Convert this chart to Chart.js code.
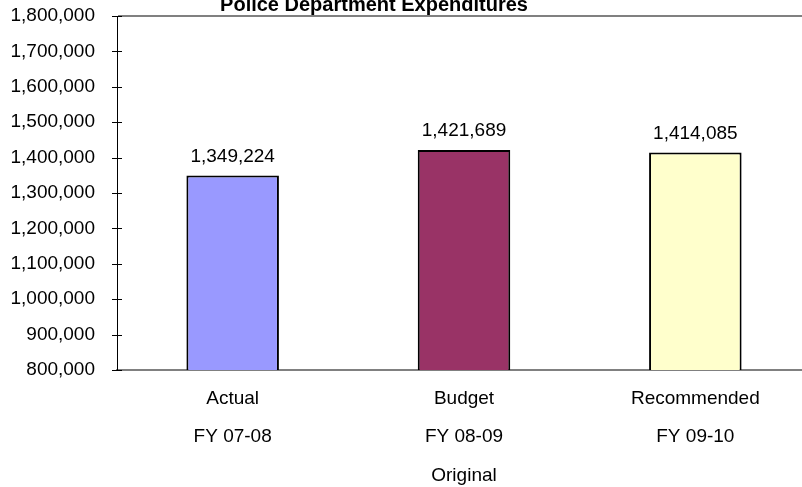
<!DOCTYPE html>
<html>
<head>
<meta charset="utf-8">
<script src="https://cdn.jsdelivr.net/npm/chart.js@4"></script>
<style>
  html, body { margin: 0; padding: 0; background: #fff; overflow: hidden; }
  #wrap { position: relative; width: 812px; height: 487px; }
</style>
</head>
<body>
<div id="wrap"><canvas id="myChart"></canvas></div>
<script>
const chartTitle = 'Police Department Expenditures';
const categories = [
  ['Actual', 'FY 07-08'],
  ['Budget', 'FY 08-09', 'Original'],
  ['Recommended', 'FY 09-10']
];
const expenditures = [1349224, 1421689, 1414085];
const barColors = ['#9999FF', '#993366', '#FFFFCC'];
const yMin = 800000;
const yMax = 1800000;
const yStep = 100000;

const FONT = "'Liberation Sans', Arial, sans-serif";
const fmt = (v) => v.toLocaleString('en-US');

// title, value labels and the tick marks crossing the y axis
const extras = {
  id: 'extras',
  afterDraw(chart) {
    const ctx = chart.ctx;
    const y = chart.scales.y;
    const area = chart.chartArea;
    ctx.save();

    ctx.strokeStyle = '#000';
    ctx.lineWidth = 1;
    y.ticks.forEach((t) => {
      const py = Math.round(y.getPixelForValue(t.value)) + 0.5;
      ctx.beginPath();
      ctx.moveTo(area.left - 5, py);
      ctx.lineTo(area.left + 5, py);
      ctx.stroke();
    });

    ctx.fillStyle = '#000';
    ctx.font = '19px ' + FONT;
    ctx.textAlign = 'center';
    ctx.textBaseline = 'alphabetic';
    chart.getDatasetMeta(0).data.forEach((bar, i) => {
      ctx.fillText(fmt(expenditures[i]), bar.x, bar.y - 14);
    });

    ctx.font = 'bold 20px ' + FONT;
    ctx.fillText(chartTitle, 374, area.top - 5);
    ctx.restore();
  }
};

const myChartRef = document.getElementById('myChart').getContext('2d');

new Chart(myChartRef, {
  type: 'bar',
  data: {
    labels: categories,
    datasets: [{
      data: expenditures,
      backgroundColor: barColors,
      borderColor: '#000',
      borderWidth: 2,
      barPercentage: 0.4,
      categoryPercentage: 1.0
    }]
  },
  options: {
    responsive: true,
    maintainAspectRatio: false,
    animation: false,
    layout: { padding: { top: 16, right: 1, left: 0, bottom: 0 } },
    plugins: {
      legend: { display: false },
      title: { display: false },
      tooltip: { enabled: false }
    },
    scales: {
      x: {
        grid: { display: false, drawOnChartArea: false },
        border: { color: '#808080', width: 2 },
        ticks: {
          color: '#000',
          padding: 1,
          maxRotation: 0,
          autoSkip: false,
          font: { family: FONT, size: 19, lineHeight: 2.03 }
        },
        afterFit(scale) { scale.height = 117; }
      },
      y: {
        min: yMin,
        max: yMax,
        grid: {
          color: (c) => (c.tick && c.tick.value === yMax ? '#808080' : 'rgba(0,0,0,0)'),
          lineWidth: 2,
          tickColor: 'rgba(0,0,0,0)',
          tickLength: 22
        },
        border: { color: '#000', width: 1 },
        ticks: {
          stepSize: yStep,
          color: '#000',
          padding: 0,
          font: { family: FONT, size: 19 },
          callback: (v) => fmt(v)
        },
        afterFit(scale) { scale.width = 117; }
      }
    }
  },
  plugins: [extras]
});
</script>
</body>
</html>
